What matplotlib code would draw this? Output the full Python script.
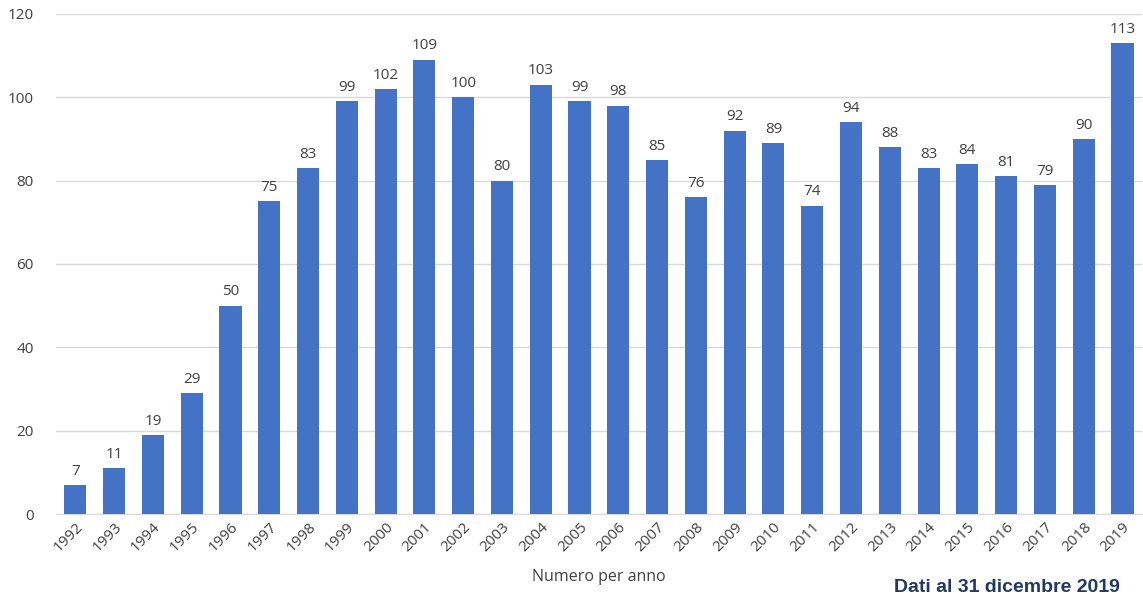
import matplotlib.pyplot as plt
import numpy as np

# Numero per anno, 1992-2019
anni = [str(a) for a in range(1992, 2020)]
valori = [7, 11, 19, 29, 50, 75, 83, 99, 102, 109, 100, 80, 103, 99, 98, 85,
          76, 92, 89, 74, 94, 88, 83, 84, 81, 79, 90, 113]

plt.rcParams['font.family'] = ['Open Sans', 'DejaVu Sans']

fig = plt.figure(figsize=(11.43, 6.02), dpi=100)
ax = fig.add_axes([0.049, 0.146, 0.950, 0.831])

x = np.arange(len(anni))
ax.bar(x, valori, width=0.57, color='#4472C4', zorder=3)

for xi, v in zip(x, valori):
    ax.text(xi, v + 1.5, str(v), ha='center', va='bottom', fontsize=11, color='#404040')

ax.set_xlim(-0.5, len(anni) - 0.5)
ax.set_ylim(0, 120)
ax.set_yticks(range(0, 121, 20))
ax.set_xticks(x)
ax.set_xticklabels(anni, rotation=45, ha='right', rotation_mode='anchor')
ax.tick_params(axis='both', length=0, labelsize=11, colors='#404040')
ax.tick_params(axis='y', pad=16)
ax.tick_params(axis='x', pad=4)

ax.grid(axis='y', color='#D9D9D9', linewidth=1, zorder=0)
for s in ['top', 'right', 'left']:
    ax.spines[s].set_visible(False)
ax.spines['bottom'].set_color('#D9D9D9')

ax.set_xlabel('Numero per anno', fontsize=11.5, color='#404040', labelpad=10)

fig.text(0.98, 0.01, 'Dati al 31 dicembre 2019', ha='right', va='bottom',
         fontsize=14, fontweight='bold', color='#1F3864', family=['Liberation Sans', 'DejaVu Sans'])

fig.savefig('out.png', dpi=100)
